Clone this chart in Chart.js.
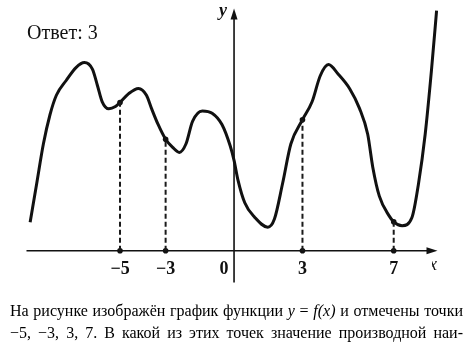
<!DOCTYPE html>
<html>
<head>
<meta charset="utf-8">
<script src="https://cdn.jsdelivr.net/npm/chart.js@4.4.1/dist/chart.umd.min.js"></script>
<style>
  html, body { margin: 0; padding: 0; background: #fff; }
  #plot { display: block; }
</style>
</head>
<body>
<canvas id="plot" width="474" height="355"></canvas>
<script>
// --- data ---
const curveX = [-8.94, -8.65, -8.36, -8.07, -7.79, -7.36, -6.93, -6.56, -6.21, -5.99,
    -5.78, -5.49, -5.20, -5.00, -4.62, -4.19, -3.84, -3.62, -3.33, -3.00,
    -2.69, -2.40, -2.11, -1.82, -1.39, -0.96, -0.53, -0.17, 0.00, 0.17,
    0.47, 0.91, 1.48, 1.77, 2.13, 2.49, 3.00, 3.42, 3.78, 4.14,
    4.57, 5.07, 5.50, 5.86, 6.08, 6.37, 6.80, 7.00, 7.37, 7.80,
    8.09, 8.38, 8.66, 8.88];
const curveY = [1.26, 2.98, 4.71, 6.00, 6.86, 7.51, 8.08, 8.30, 8.01, 7.29,
    6.57, 6.26, 6.36, 6.54, 6.93, 7.16, 6.86, 6.28, 5.57, 4.92,
    4.56, 4.34, 4.71, 5.71, 6.17, 6.07, 5.57, 4.63, 3.99, 3.13,
    2.12, 1.47, 1.04, 1.40, 2.98, 4.71, 5.78, 6.57, 7.72, 8.21,
    7.79, 7.15, 6.28, 5.14, 3.70, 2.41, 1.54, 1.28, 1.11, 1.47,
    2.98, 5.14, 8.01, 10.59];

const markX = [-5, -3, 3, 7];
const markY = [6.54, 4.92, 5.78, 1.28];

const tickValues = [-5, -3, 0, 3, 7];
const tickLabels = ['\u22125', '\u22123', '0', '3', '7'];

const answerText = 'Ответ: 3';
const captionLines = [
    [['На'], ['рисунке'], ['изображён'], ['график'], ['функции'], ['y', 1], ['='], ['f(x)', 1], ['и'], ['отмечены'], ['точки']],
    [['\u22125,'], ['\u22123,'], ['3,'], ['7.'], ['В'], ['какой'], ['из'], ['этих'], ['точек'], ['значение'], ['производной'], ['наи-']]
];

const INK = '#111';

// axes, arrows, labels and caption drawn on top of the library's scales
const figurePlugin = {
    id: 'figure',
    beforeDatasetsDraw(chart) {
        const ctx = chart.ctx;
        const xs = chart.scales.x, ys = chart.scales.y;
        const x0 = xs.getPixelForValue(0), y0 = ys.getPixelForValue(0);
        const left = xs.getPixelForValue(-9.1), right = xs.getPixelForValue(8.92);
        const bottom = ys.getPixelForValue(-1.4), top = ys.getPixelForValue(10.68);

        ctx.save();
        ctx.strokeStyle = INK;
        ctx.fillStyle = INK;
        ctx.lineWidth = 1.6;
        ctx.beginPath();
        ctx.moveTo(left, y0); ctx.lineTo(right - 8, y0);
        ctx.moveTo(x0, bottom); ctx.lineTo(x0, top + 8);
        ctx.stroke();
        // arrow heads
        ctx.beginPath();
        ctx.moveTo(right, y0); ctx.lineTo(right - 11, y0 - 3.5); ctx.lineTo(right - 11, y0 + 3.5);
        ctx.closePath(); ctx.fill();
        ctx.beginPath();
        ctx.moveTo(x0, top); ctx.lineTo(x0 - 3.5, top + 11); ctx.lineTo(x0 + 3.5, top + 11);
        ctx.closePath(); ctx.fill();
        ctx.restore();
    },
    afterDraw(chart) {
        const ctx = chart.ctx;
        const xs = chart.scales.x, ys = chart.scales.y;
        const x0 = xs.getPixelForValue(0), y0 = ys.getPixelForValue(0);
        ctx.save();
        ctx.fillStyle = INK;

        // tick labels
        ctx.font = 'bold 18px "Liberation Serif"';
        ctx.textAlign = 'center';
        ctx.textBaseline = 'alphabetic';
        tickValues.forEach((v, i) => {
            let px = xs.getPixelForValue(v);
            if (v === 0) px -= 10;
            ctx.fillText(tickLabels[i], px, y0 + 23);
        });

        // axis names
        ctx.font = 'bold italic 18px "Liberation Serif"';
        ctx.fillText('y', x0 - 11, 16);
        ctx.save();
        ctx.beginPath();
        ctx.rect(432, y0, 20, 30);
        ctx.clip();
        ctx.font = 'italic 18px "Liberation Serif"';
        ctx.fillText('x', 433, y0 + 19);
        ctx.restore();

        // answer
        ctx.font = '20px "Liberation Serif"';
        ctx.textAlign = 'left';
        ctx.fillText(answerText, 27, 39);

        // caption, justified
        ctx.fillStyle = '#000';
        const lineLeft = 10, lineRight = 463;
        const baselines = [316, 338];
        captionLines.forEach((words, li) => {
            const fonts = words.map(w => (w[1] ? 'italic ' : '') + '16px "Liberation Serif"');
            const widths = words.map((w, i) => { ctx.font = fonts[i]; return ctx.measureText(w[0]).width; });
            const total = widths.reduce((a, b) => a + b, 0);
            const gap = (lineRight - lineLeft - total) / (words.length - 1);
            let x = lineLeft;
            words.forEach((w, i) => {
                ctx.font = fonts[i];
                ctx.fillText(w[0], x, baselines[li]);
                x += widths[i] + gap;
            });
        });
        ctx.restore();
    }
};

const curvePoints = curveX.map((x, i) => ({ x: x, y: curveY[i] }));

const dashSets = markX.map((x, i) => ({
    data: [{ x: x, y: 0 }, { x: x, y: markY[i] }],
    showLine: true,
    borderColor: '#1a1a1a',
    borderWidth: 2,
    borderDash: [5, 3],
    pointRadius: 0,
    clip: false
}));

const dotPoints = markX.map((x, i) => ({ x: x, y: markY[i] }))
    .concat(markX.map(x => ({ x: x, y: 0 })));

new Chart(document.getElementById('plot'), {
    type: 'scatter',
    data: {
        datasets: [
            ...dashSets,
            {
                data: curvePoints,
                showLine: true,
                borderColor: INK,
                borderWidth: 3,
                cubicInterpolationMode: 'monotone',
                pointRadius: 0,
                clip: false
            },
            {
                data: dotPoints,
                pointRadius: 2.8,
                pointBackgroundColor: INK,
                pointBorderWidth: 0,
                clip: false
            }
        ]
    },
    options: {
        responsive: false,
        animation: false,
        devicePixelRatio: 1,
        layout: { padding: 0 },
        plugins: { legend: { display: false }, tooltip: { enabled: false } },
        scales: {
            x: { type: 'linear', display: false, min: -10.086, max: 10.345 },
            y: { type: 'linear', display: false, min: -4.418, max: 10.883 }
        }
    },
    plugins: [figurePlugin]
});
</script>
</body>
</html>
